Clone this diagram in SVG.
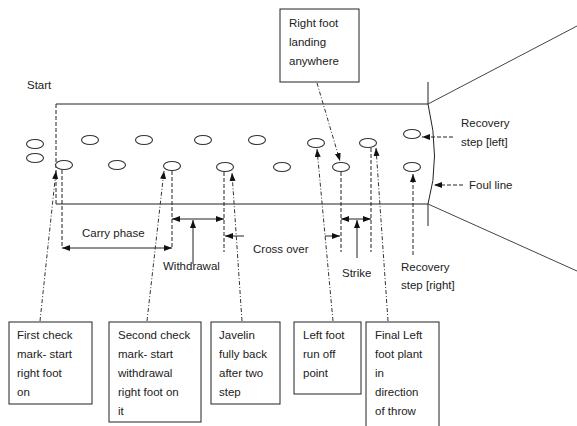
<svg xmlns="http://www.w3.org/2000/svg" width="577" height="426" viewBox="0 0 577 426">
<style>
text{font-family:"Liberation Sans",Arial,sans-serif;font-size:11.5px;fill:#222}
.ln{stroke:#222;stroke-width:1;fill:none}
.sec{stroke:#444;stroke-width:1;fill:none}
.ft{stroke:#333;stroke-width:1.1;fill:#fff}
.dash{stroke:#222;stroke-width:1;fill:none;stroke-dasharray:4,2}
.dd{stroke:#333;stroke-width:1;fill:none;stroke-dasharray:4,2,1,2}
.box{stroke:#222;stroke-width:1;fill:#fff}
</style>
<defs>
<marker id="ah" viewBox="0 0 8 6" markerWidth="8" markerHeight="6" refX="8" refY="3" orient="auto-start-reverse" markerUnits="userSpaceOnUse">
<path d="M0,0 L8,3 L0,6 z" fill="#111"/>
</marker>
</defs>
<rect width="577" height="426" fill="#fff"/>
<g id="field">
<line class="ln" x1="56" y1="104" x2="428" y2="104"/>
<line class="ln" x1="56" y1="204" x2="428" y2="204"/>
<line class="dash" x1="56" y1="104" x2="56" y2="204"/>
<line class="ln" x1="428" y1="82" x2="428" y2="104"/>
<line class="ln" x1="428" y1="204" x2="428" y2="226"/>
<path class="ln" d="M428,104 Q441,158 428,204"/>
<line class="sec" x1="428" y1="104" x2="577" y2="26"/>
<line class="sec" x1="428" y1="204" x2="577" y2="271"/>
</g>
<g id="footprints">
<ellipse class="ft" cx="35" cy="144" rx="8.5" ry="4.5"/>
<ellipse class="ft" cx="35" cy="158" rx="8.5" ry="4.5"/>
<ellipse class="ft" cx="90" cy="140" rx="8.5" ry="4.5"/>
<ellipse class="ft" cx="144" cy="140" rx="8.5" ry="4.5"/>
<ellipse class="ft" cx="203" cy="140" rx="8.5" ry="4.5"/>
<ellipse class="ft" cx="257" cy="140" rx="8.5" ry="4.5"/>
<ellipse class="ft" cx="316" cy="143" rx="8.5" ry="4.5"/>
<ellipse class="ft" cx="368" cy="143" rx="8.5" ry="4.5"/>
<ellipse class="ft" cx="412" cy="134" rx="8.5" ry="4.5"/>
<ellipse class="ft" cx="64" cy="165" rx="8.5" ry="4.5"/>
<ellipse class="ft" cx="117" cy="165" rx="8.5" ry="4.5"/>
<ellipse class="ft" cx="172" cy="166" rx="8.5" ry="4.5"/>
<ellipse class="ft" cx="225" cy="167" rx="8.5" ry="4.5"/>
<ellipse class="ft" cx="282" cy="167" rx="8.5" ry="4.5"/>
<ellipse class="ft" cx="341" cy="167" rx="8.5" ry="4.5"/>
<ellipse class="ft" cx="412" cy="167" rx="8.5" ry="4.5"/>
</g>
<g id="connectors">
<line class="dash" x1="62" y1="170" x2="62" y2="248"/>
<line class="dash" x1="172" y1="171" x2="172" y2="248"/>
<line class="dash" x1="224" y1="172" x2="224" y2="252"/>
<line class="dash" x1="341" y1="172" x2="341" y2="252"/>
<line class="dash" x1="371" y1="148" x2="371" y2="252"/>
<line class="ln" x1="62" y1="248" x2="172" y2="248" marker-start="url(#ah)" marker-end="url(#ah)"/>
<line class="ln" x1="172" y1="219" x2="224" y2="219" marker-start="url(#ah)" marker-end="url(#ah)"/>
<line class="ln" x1="193" y1="264" x2="193" y2="220" marker-end="url(#ah)"/>
<line class="ln" x1="244" y1="236" x2="225" y2="236" marker-end="url(#ah)"/>
<line class="ln" x1="325" y1="236" x2="340" y2="236" marker-end="url(#ah)"/>
<line class="ln" x1="341" y1="219" x2="371" y2="219" marker-start="url(#ah)" marker-end="url(#ah)"/>
<line class="ln" x1="357" y1="258" x2="357" y2="220" marker-end="url(#ah)"/>
<line class="dash" x1="413" y1="255" x2="413" y2="174" marker-end="url(#ah)"/>
<line class="dash" x1="453" y1="137" x2="422" y2="137" marker-end="url(#ah)"/>
<line class="dash" x1="463" y1="185" x2="434" y2="185" marker-end="url(#ah)"/>
<line class="dd" x1="40" y1="321" x2="56" y2="171" marker-end="url(#ah)"/>
<line class="dd" x1="147" y1="321" x2="164" y2="171" marker-end="url(#ah)"/>
<line class="dd" x1="242" y1="321" x2="232" y2="173" marker-end="url(#ah)"/>
<line class="dd" x1="333" y1="321" x2="317" y2="149" marker-end="url(#ah)"/>
<line class="dd" x1="388" y1="321" x2="376" y2="148" marker-end="url(#ah)"/>
<line class="dd" x1="317" y1="83" x2="340" y2="161" marker-end="url(#ah)"/>
</g>
<g id="labels">
<text x="27" y="89">Start</text>
<text x="82" y="237">Carry phase</text>
<text x="163" y="270">Withdrawal</text>
<text x="253" y="253">Cross over</text>
<text x="342" y="277">Strike</text>
<text x="401" y="271">Recovery</text>
<text x="401" y="289">step [right]</text>
<text x="461" y="127">Recovery</text>
<text x="461" y="146">step [left]</text>
<text x="469" y="189">Foul line</text>
</g>
<g id="box-right-foot">
<rect class="box" x="280" y="9" width="79" height="73"/>
<text x="289" y="27">Right foot</text>
<text x="289" y="46">landing</text>
<text x="289" y="65">anywhere</text>
</g>
<g id="box-first-check">
<rect class="box" x="9" y="322" width="83" height="82"/>
<text x="17" y="339">First check</text>
<text x="17" y="358">mark- start</text>
<text x="17" y="377">right foot</text>
<text x="17" y="396">on</text>
</g>
<g id="box-second-check">
<rect class="box" x="109" y="322" width="92" height="100"/>
<text x="118" y="339">Second check</text>
<text x="118" y="358">mark- start</text>
<text x="118" y="377">withdrawal</text>
<text x="118" y="396">right foot on</text>
<text x="118" y="415">it</text>
</g>
<g id="box-javelin">
<rect class="box" x="211" y="322" width="69" height="82"/>
<text x="219" y="339">Javelin</text>
<text x="219" y="358">fully back</text>
<text x="219" y="377">after two</text>
<text x="219" y="396">step</text>
</g>
<g id="box-left-foot">
<rect class="box" x="294" y="322" width="67" height="72"/>
<text x="303" y="339">Left foot</text>
<text x="303" y="358">run off</text>
<text x="303" y="377">point</text>
</g>
<g id="box-final-left">
<rect class="box" x="366" y="322" width="73" height="110"/>
<text x="375" y="339">Final Left</text>
<text x="375" y="358">foot plant</text>
<text x="375" y="377">in</text>
<text x="375" y="396">direction</text>
<text x="375" y="415">of throw</text>
</g>
</svg>
